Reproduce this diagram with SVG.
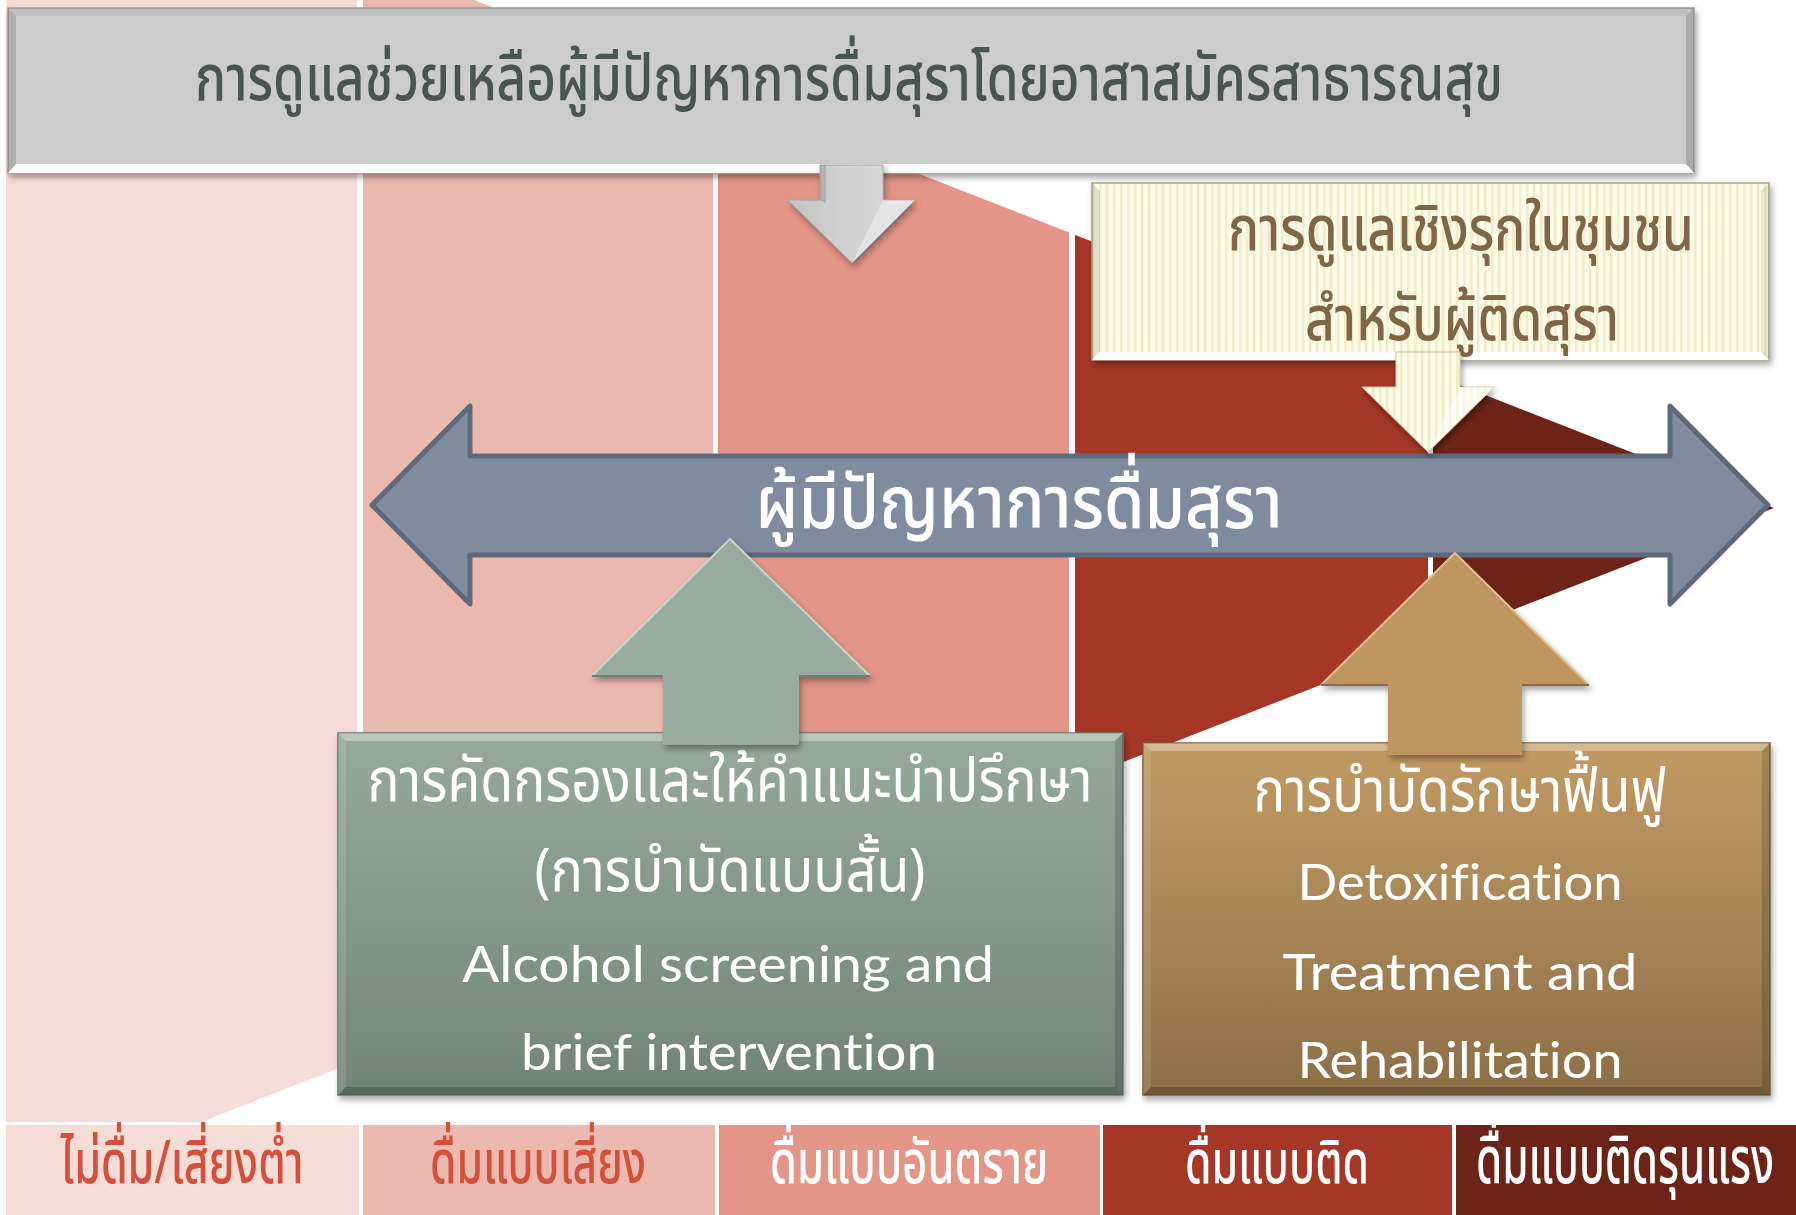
<svg xmlns="http://www.w3.org/2000/svg" width="1796" height="1215" viewBox="0 0 1796 1215">
<style>
.th{font-family:"Noto Sans Thai","Noto Sans","DejaVu Sans",sans-serif;}
.en{font-family:Lato,"Open Sans","Liberation Sans",sans-serif;font-variant-ligatures:none;}
.w{fill:#FFFFFF;}
.lbl{font-size:48px;font-weight:500;text-anchor:middle;}
.box-txt{font-size:60px;text-anchor:middle;}
.cond{font-weight:500;}
</style>
<defs>
<clipPath id="wedge"><polygon points="6,0 474,0 1774,508 201,1122 6,1122"/></clipPath>
<filter id="sh" x="-10%" y="-10%" width="120%" height="130%"><feDropShadow dx="2" dy="4" stdDeviation="3" flood-color="#000" flood-opacity="0.35"/></filter>
<linearGradient id="gGreen" x1="0" y1="0" x2="0" y2="1"><stop offset="0" stop-color="#95AA9C"/><stop offset="1" stop-color="#718478"/></linearGradient>
<linearGradient id="gBrown" x1="0" y1="0" x2="0" y2="1"><stop offset="0" stop-color="#C29B63"/><stop offset="1" stop-color="#8D6F48"/></linearGradient>
<linearGradient id="gGray" x1="0" y1="0" x2="1" y2="0"><stop offset="0" stop-color="#C4C4C4"/><stop offset="0.5" stop-color="#D2D2D2"/><stop offset="1" stop-color="#DADADA"/></linearGradient>
<pattern id="stripes" width="7" height="10" patternUnits="userSpaceOnUse"><rect width="7" height="10" fill="#FBFAE6"/><rect x="0" width="2.5" height="10" fill="#F0EDCB"/></pattern>
</defs>

<g id="background" clip-path="url(#wedge)">
<rect x="6" y="0" width="351" height="1122" fill="#F6DCD7"/>
<rect x="363" y="0" width="350" height="1122" fill="#ECB9B0"/>
<rect x="718" y="0" width="351" height="1122" fill="#E39587"/>
<rect x="1075" y="0" width="353" height="1122" fill="#A63726"/>
<rect x="1433" y="0" width="363" height="1122" fill="#6E2318"/>
</g>

<g id="levels">
<g id="level-1"><rect x="6" y="1125" width="353" height="90" fill="#F6DCD7"/><text class="th lbl" transform="translate(182,1183) scale(1,1.25)" x="0" y="0" fill="#D4503A" textLength="243" lengthAdjust="spacingAndGlyphs">ไม่ดื่ม/เสี่ยงต่ำ</text></g>
<g id="level-2"><rect x="363" y="1125" width="352" height="90" fill="#ECB9B0"/><text class="th lbl" transform="translate(538,1183) scale(1,1.25)" x="0" y="0" fill="#D4503A" textLength="216" lengthAdjust="spacingAndGlyphs">ดื่มแบบเสี่ยง</text></g>
<g id="level-3"><rect x="719" y="1125" width="381" height="90" fill="#E39587"/><text class="th lbl w" transform="translate(909,1183) scale(1,1.25)" x="0" y="0" textLength="278" lengthAdjust="spacingAndGlyphs">ดื่มแบบอันตราย</text></g>
<g id="level-4"><rect x="1103" y="1125" width="349" height="90" fill="#A63726"/><text class="th lbl w" transform="translate(1277,1183) scale(1,1.25)" x="0" y="0" textLength="184" lengthAdjust="spacingAndGlyphs">ดื่มแบบติด</text></g>
<g id="level-5"><rect x="1456" y="1125" width="340" height="90" fill="#6E2318"/><text class="th lbl w" transform="translate(1625,1183) scale(1,1.36)" x="0" y="0" font-size="44" textLength="298" lengthAdjust="spacingAndGlyphs">ดื่มแบบติดรุนแรง</text></g>
</g>

<g id="title-box">
<rect x="8" y="8" width="1686" height="165" fill="#CCCCCC" stroke="#9C9C9C" stroke-width="1.5" filter="url(#sh)"/>
<polygon points="8,8 1694,8 1686,16 16,16" fill="#000" opacity="0.06"/>
<polygon points="8,8 16,16 16,165 8,173" fill="#000" opacity="0.14"/>
<polygon points="1694,8 1686,16 1686,165 1694,173" fill="#000" opacity="0.16"/>
<polygon points="8,173 16,164 1686,164 1694,173" fill="#FFFFFF" opacity="0.9"/>
<text class="th cond" transform="translate(849,100) scale(1,1.06)" x="0" y="0" font-size="60" text-anchor="middle" fill="#4A5551" textLength="1308" lengthAdjust="spacingAndGlyphs">การดูแลช่วยเหลือผู้มีปัญหาการดื่มสุราโดยอาสาสมัครสาธารณสุข</text>
</g>

<g id="community-box">
<rect x="1092" y="183" width="677" height="177" fill="url(#stripes)" stroke="#A9A68A" stroke-width="1.5" filter="url(#sh)"/>
<polygon points="1092,183 1100,191 1100,352 1092,360" fill="#000" opacity="0.1"/>
<polygon points="1769,183 1761,191 1761,352 1769,360" fill="#000" opacity="0.08"/>
<polygon points="1092,360 1100,352 1761,352 1769,360" fill="#FFFFFF" opacity="0.95"/>
<text class="th cond" x="1461" y="250" font-size="62" text-anchor="middle" fill="#7F6646" textLength="466" lengthAdjust="spacingAndGlyphs">การดูแลเชิงรุกในชุมชน</text>
<text class="th cond" x="1462" y="340" font-size="62" text-anchor="middle" fill="#7F6646" textLength="314" lengthAdjust="spacingAndGlyphs">สำหรับผู้ติดสุรา</text>
</g>

<g id="problem-drinkers">
<path d="M372,505 L470,406 L470,456 L1670,456 L1670,406 L1768,505 L1670,604 L1670,555 L470,555 L470,604 Z" fill="#7F8C9F" stroke="#5C6A7B" stroke-width="5" stroke-linejoin="round"/>
<text class="th cond w" x="1019" y="528" font-size="74" text-anchor="middle" textLength="527" lengthAdjust="spacingAndGlyphs">ผู้มีปัญหาการดื่มสุรา</text>
</g>

<g id="screening-box">
<rect x="338" y="733" width="785" height="362" fill="url(#gGreen)" stroke="#66786C" stroke-width="1.5" filter="url(#sh)"/>
<polygon points="338,733 1123,733 1115,741 346,741" fill="#FFFFFF" opacity="0.35"/>
<polygon points="338,733 346,741 346,1087 338,1095" fill="#FFFFFF" opacity="0.12"/>
<polygon points="1123,733 1115,741 1115,1087 1123,1095" fill="#000" opacity="0.15"/>
<polygon points="338,1095 346,1087 1115,1087 1123,1095" fill="#000" opacity="0.2"/>
<text class="th box-txt w" x="730" y="801" textLength="725" lengthAdjust="spacingAndGlyphs">การคัดกรองและให้คำแนะนำปรึกษา</text>
<text class="th box-txt w" x="730" y="891" textLength="391" lengthAdjust="spacingAndGlyphs">(การบำบัดแบบสั้น)</text>
<text class="en w" x="728" y="982" font-size="51" text-anchor="middle" textLength="532" lengthAdjust="spacingAndGlyphs">Alcohol screening and</text>
<text class="en w" x="729" y="1070" font-size="51" text-anchor="middle" textLength="416" lengthAdjust="spacingAndGlyphs">brief intervention</text>
</g>

<g id="treatment-box">
<rect x="1143" y="743" width="627" height="352" fill="url(#gBrown)" stroke="#7A5F3C" stroke-width="1.5" filter="url(#sh)"/>
<polygon points="1143,743 1770,743 1762,751 1151,751" fill="#FFFFFF" opacity="0.3"/>
<polygon points="1143,743 1151,751 1151,1087 1143,1095" fill="#FFFFFF" opacity="0.1"/>
<polygon points="1770,743 1762,751 1762,1087 1770,1095" fill="#000" opacity="0.15"/>
<polygon points="1143,1095 1151,1087 1762,1087 1770,1095" fill="#000" opacity="0.2"/>
<text class="th box-txt w" x="1460" y="811" textLength="413" lengthAdjust="spacingAndGlyphs">การบำบัดรักษาฟื้นฟู</text>
<text class="en w" x="1460" y="900" font-size="51" text-anchor="middle" textLength="325" lengthAdjust="spacingAndGlyphs">Detoxification</text>
<text class="en w" x="1460" y="990" font-size="51" text-anchor="middle" textLength="355" lengthAdjust="spacingAndGlyphs">Treatment and</text>
<text class="en w" x="1460" y="1078" font-size="51" text-anchor="middle" textLength="325" lengthAdjust="spacingAndGlyphs">Rehabilitation</text>
</g>

<g id="connectors">
<g id="arrow-title-down" filter="url(#sh)">
<polygon points="820,165 883,165 883,200 915,200 852,263 788,200 820,200" fill="url(#gGray)" stroke="#A8A8A8" stroke-width="1"/>
<polygon points="852,263 883,200 915,200" fill="#FFFFFF" opacity="0.35"/>
<polygon points="820,165 826,165 826,203 820,200" fill="#000" opacity="0.12"/>
</g>
<g id="arrow-community-down" filter="url(#sh)">
<polygon points="1396,352 1460,352 1460,387 1494,387 1428,452 1362,387 1396,387" fill="url(#stripes)" stroke="#C9C6A6" stroke-width="1"/>
<polygon points="1428,452 1460,387 1494,387" fill="#FFFFFF" opacity="0.5"/>
</g>
<g id="arrow-screening-up" filter="url(#sh)">
<polygon points="730,539 870,676 799,676 799,745 663,745 663,676 592,676" fill="#97AC9E"/>
<polyline points="592,676 730,539 870,676" fill="none" stroke="#C4D4C8" stroke-width="2"/>
<line x1="592" y1="676" x2="663" y2="676" stroke="#6E8274" stroke-width="2"/>
<line x1="799" y1="676" x2="870" y2="676" stroke="#6E8274" stroke-width="2"/>
</g>
<g id="arrow-treatment-up" filter="url(#sh)">
<polygon points="1455,553 1589,685 1522,685 1522,755 1388,755 1388,685 1321,685" fill="#BF9661"/>
<polyline points="1321,685 1455,553 1589,685" fill="none" stroke="#E0C08F" stroke-width="2"/>
<line x1="1321" y1="685" x2="1388" y2="685" stroke="#8A6B43" stroke-width="2"/>
<line x1="1522" y1="685" x2="1589" y2="685" stroke="#8A6B43" stroke-width="2"/>
</g>
</g>
</svg>
